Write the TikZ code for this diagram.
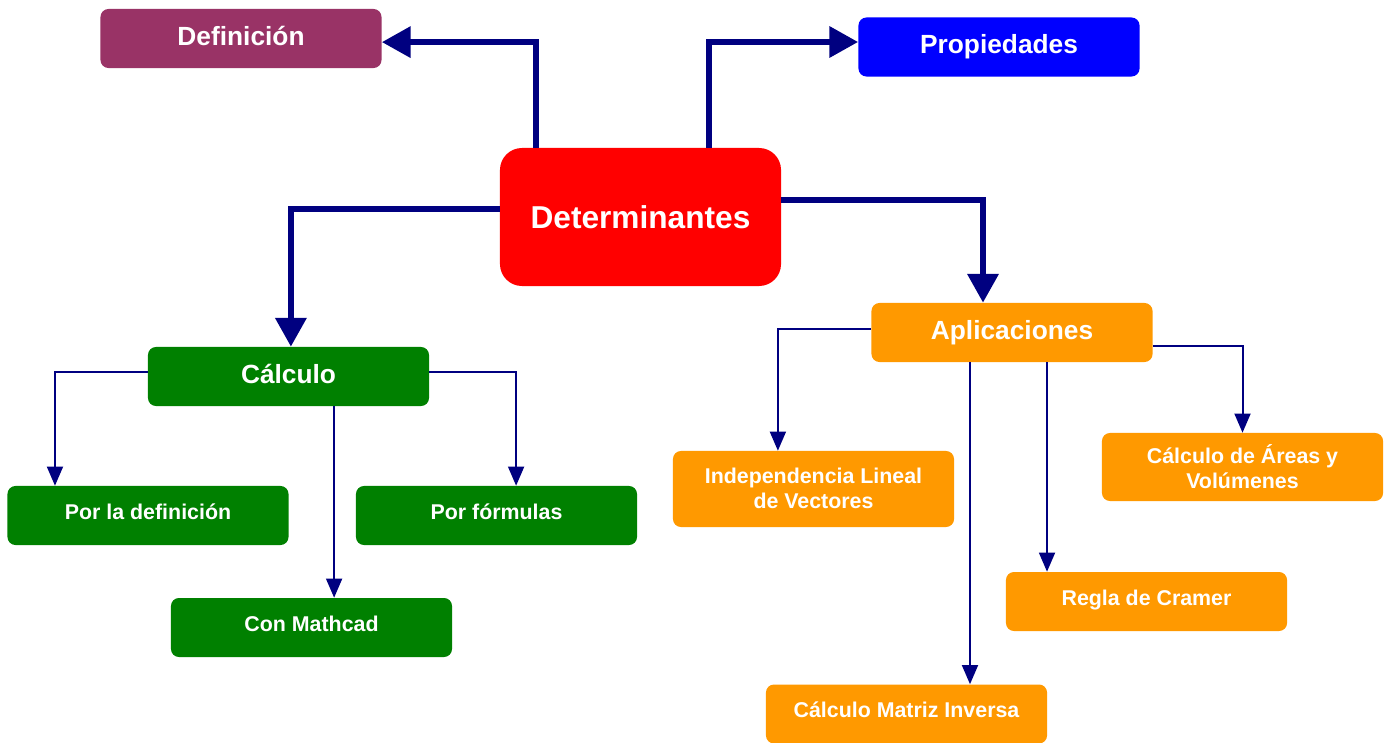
\documentclass[tikz,border=0pt]{standalone}
\usepackage{fontspec}
\setmainfont{Liberation Sans}
\usetikzlibrary{arrows.meta, calc}
\definecolor{moradodef}{RGB}{153, 51, 102}
\definecolor{azulprop}{RGB}{0, 0, 255}
\definecolor{rojodet}{RGB}{255, 0, 0}
\definecolor{verdecalc}{RGB}{0, 128, 0}
\definecolor{naranjaapl}{RGB}{255, 153, 0}
\definecolor{azulflecha}{RGB}{0, 0, 128}
\tikzset{
  caja/.style={rectangle, rounded corners=0.2cm, minimum width=7.025cm, minimum height=1.475cm, text centered, align=center, text=white, text depth=0.2cm, font=\bfseries\fontsize{15.2}{17.8}\selectfont},
  cajagrande/.style={caja, text depth=0.15cm, font=\bfseries\fontsize{18.7}{22}\selectfont},
  flechagruesa/.style={azulflecha, line width=0.16cm, -{Triangle[width=0.75cm, length=0.72cm]}},
  flechafina/.style={azulflecha, line width=0.05cm, -{Triangle[width=0.4cm, length=0.48cm]}}
}

\begin{document}
\begin{tikzpicture}[x=0.025cm, y=-0.025cm]
        \useasboundingbox (0,0) rectangle (1391,742);

        % 1. Nodo central
        \node[cajagrande, fill=rojodet, rounded corners=0.55cm, minimum height=3.45cm, text depth=0pt, font=\bfseries\fontsize{22.5}{26}\selectfont] (det) at (640.5, 217) {Determinantes};

        % 2. Primer nivel
        \node[cajagrande, fill=moradodef] (def) at (241, 38.5) {Definición};
        \node[cajagrande, fill=azulprop] (prop) at (999, 47) {Propiedades};
        \node[cajagrande, fill=verdecalc] (calc) at (288.5, 376.5) {Cálculo};
        \node[cajagrande, fill=naranjaapl] (apl) at (1012, 332.5) {Aplicaciones};

        % 3. Ramas de Cálculo
        \node[caja, fill=verdecalc] (pdef) at (148, 515.5) {Por la definición};
        \node[caja, fill=verdecalc] (pform) at (496.5, 515.5) {Por fórmulas};
        \node[caja, fill=verdecalc] (mcad) at (311.5, 627.5) {Con Mathcad};

        % 4. Ramas de Aplicaciones
        \node[caja, fill=naranjaapl, minimum height=1.9cm, text depth=0.05cm] (ind) at (813.5, 489) {Independencia Lineal\\de Vectores};
        \node[caja, fill=naranjaapl, minimum height=1.7cm, text depth=0pt] (area) at (1242.5, 467) {Cálculo de Áreas y\\Volúmenes};
        \node[caja, fill=naranjaapl] (reg) at (1146.5, 601.5) {Regla de Cramer};
        \node[caja, fill=naranjaapl] (mat) at (906.5, 714) {Cálculo Matriz Inversa};

        % 5. Flechas gruesas desde Determinantes
        \draw[flechagruesa] ([xshift=0.9cm]det.north west) |- ([yshift=-0.09cm]def.east);
        \draw[flechagruesa] ([xshift=1.71cm]det.north) |- ([yshift=0.125cm]prop.west);
        \draw[flechagruesa] ([yshift=0.2cm]det.west) -| ([xshift=0.06cm]calc.north);
        \draw[flechagruesa] ([yshift=0.425cm]det.east) -| ([xshift=-0.725cm]apl.north);

        % 6. Flechas finas de Cálculo
        \draw[flechafina] ([yshift=0.11cm]calc.west) -| ([xshift=-2.325cm]pdef.north);
        \draw[flechafina] ([yshift=0.11cm]calc.east) -| ([xshift=0.49cm]pform.north);
        \draw[flechafina] ([xshift=1.14cm]calc.south) -- ([xshift=1.14cm]calc.south |- mcad.north);

        % 7. Flechas finas de Aplicaciones
        \draw[flechafina] ([yshift=0.09cm]apl.west) -| ([xshift=-0.89cm]ind.north);
        \draw[flechafina] ([xshift=-1.05cm]apl.south) -- ([xshift=-1.05cm]apl.south |- mat.north);
        \draw[flechafina] ([xshift=0.875cm]apl.south) -- ([xshift=0.875cm]apl.south |- reg.north);
        \draw[flechafina] ([yshift=-0.34cm]apl.east) -| (area.north);

    \end{tikzpicture}
\end{document}
